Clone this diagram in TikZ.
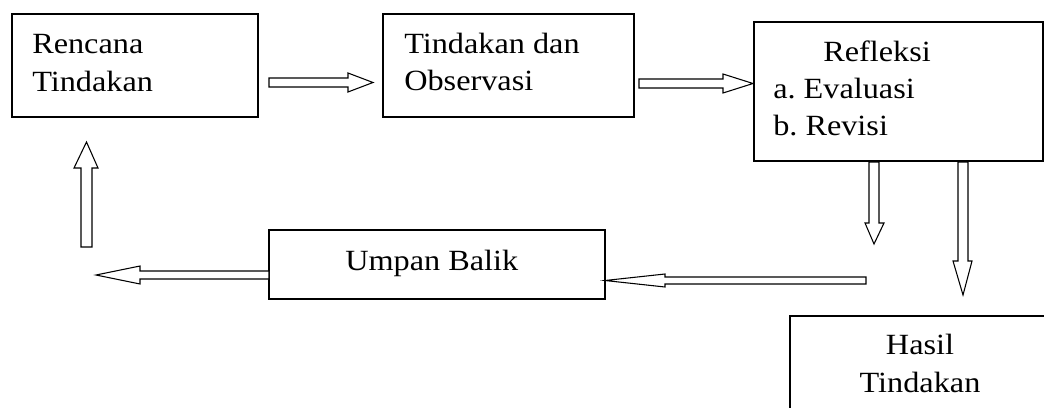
\documentclass[tikz,border=0pt]{standalone}
\usepackage{fontspec}
\setmainfont[FakeStretch=1.1]{Liberation Serif}
\usetikzlibrary{fit}
\frenchspacing
\begin{document}
\begin{tikzpicture}[x=0.75pt,y=-0.75pt,
  box/.style={draw=black, line width=1.1pt, inner sep=0pt},
  txt/.style={inner sep=0pt, font=\fontsize{22}{28}\selectfont},
  blockarrow/.style={draw=black, line width=0.8pt, fill=white, line join=miter}]
\useasboundingbox (0,0) rectangle (1044,407);
\clip (0,0) rectangle (1044,407);
% boxes
\node[box, fit={(12,14) (258,117)}] (rencana) {};
\node[box, fit={(383,14) (634,117)}] (tindakan) {};
\node[box, fit={(754,22) (1043,161)}] (refleksi) {};
\node[box, fit={(269,230) (605,299)}] (umpan) {};
\node[box, fit={(790,316) (1070,440)}] (hasil) {};
% texts
\node[txt, anchor=base west] (r1) at (32,53) {Rencana};
\node[txt, anchor=base west] (r2) at (32,91) {Tindakan};
\node[txt, anchor=base west] (t1) at (404,53) {Tindakan dan};
\node[txt, anchor=base west] (t2) at (404,90) {Observasi};
\node[txt, anchor=base west] (f1) at (823,61) {Refleksi};
\node[txt, anchor=base west] (f2) at (773,98) {a. Evaluasi};
\node[txt, anchor=base west] (f3) at (773,135) {b. Revisi};
\node[txt, anchor=base west] (u1) at (345,270) {Umpan Balik};
\node[txt, anchor=base] (h1) at (920,354) {Hasil};
\node[txt, anchor=base] (h2) at (920,392) {Tindakan};
% block arrows
\draw[blockarrow] (269,78)--(348,78)--(348,73)--(373,82.5)--(348,92)--(348,87)--(269,87)--cycle;
\draw[blockarrow] (639,79)--(723,79)--(723,74)--(753,83.5)--(723,93)--(723,88)--(639,88)--cycle;
\draw[blockarrow] (869,162)--(869,223)--(865,223)--(874,244)--(884,223)--(879,223)--(879,162)--cycle;
\draw[blockarrow] (958,162)--(958,261)--(953,261)--(963,295)--(972,261)--(968,261)--(968,162)--cycle;
\draw[blockarrow] (866,277)--(665,277)--(665,274)--(605,280.5)--(665,287)--(665,284)--(866,284)--cycle;
\draw[blockarrow] (269,271)--(140,271)--(140,266)--(96,275)--(140,284)--(140,279)--(269,279)--cycle;
\draw[blockarrow] (81,247)--(81,168)--(74,168)--(86.5,142)--(98,168)--(92,168)--(92,247)--cycle;
\end{tikzpicture}
\end{document}
